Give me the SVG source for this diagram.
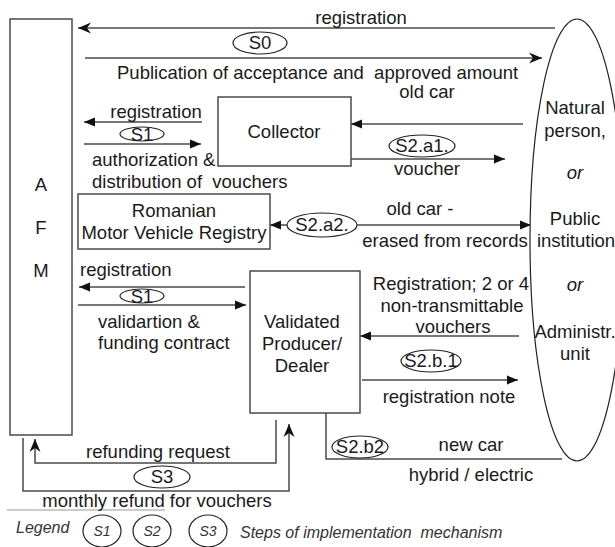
<svg xmlns="http://www.w3.org/2000/svg" width="615" height="547" viewBox="0 0 615 547">
<style>
text{font-family:"Liberation Sans",Arial,sans-serif;font-size:18.5px;fill:#1a1a1a}
.c{text-anchor:middle}
.it{font-style:italic}
.pre{white-space:pre}
.box{fill:#fff;stroke:#4a4a4a;stroke-width:1.5}
.ln{fill:none;stroke:#4a4a4a;stroke-width:1.5}
.ell{fill:#fff;stroke:#222;stroke-width:1.2}
.lg{font-size:16px;fill:#333}
.lgs{font-size:14px;fill:#333}
</style>
<defs>
<marker id="tri" markerUnits="userSpaceOnUse" markerWidth="12" markerHeight="10" refX="11" refY="5" orient="auto">
<path d="M0,0.5 L11,5 L0,9.5 z" fill="#111"/>
</marker>
<marker id="st" markerUnits="userSpaceOnUse" markerWidth="14" markerHeight="12" refX="13" refY="6" orient="auto">
<path d="M0,0.5 L13,6 L0,11.5 L4,6 z" fill="#111"/>
</marker>
</defs>
<rect width="615" height="547" fill="#fff"/>

<g id="connectors">
<line class="ln" x1="555" y1="28" x2="78" y2="28" marker-end="url(#st)"/>
<line class="ln" x1="85" y1="58" x2="542" y2="58" marker-end="url(#st)"/>
<line class="ln" x1="202" y1="122" x2="84" y2="122" marker-end="url(#tri)"/>
<line class="ln" x1="84" y1="144" x2="201" y2="144" marker-end="url(#tri)"/>
<line class="ln" x1="523" y1="124" x2="351" y2="124" marker-end="url(#tri)"/>
<line class="ln" x1="351" y1="159" x2="505" y2="159" marker-end="url(#tri)"/>
<line class="ln" x1="287" y1="225" x2="270" y2="225" marker-end="url(#tri)"/>
<line class="ln" x1="357" y1="225" x2="531" y2="225" marker-end="url(#tri)"/>
<line class="ln" x1="245" y1="287" x2="79" y2="287" marker-end="url(#tri)"/>
<line class="ln" x1="78" y1="305" x2="246" y2="305" marker-end="url(#tri)"/>
<line class="ln" x1="519" y1="336" x2="360" y2="336" marker-end="url(#tri)"/>
<line class="ln" x1="362" y1="380" x2="518" y2="380" marker-end="url(#tri)"/>
<path class="ln" d="M326,413 V459 H562"/>
<path class="ln" d="M276,420 V463 H35 V439" marker-end="url(#st)"/>
<path class="ln" d="M23,438 V491 H289 V424" marker-end="url(#st)"/>
<line x1="7" y1="510" x2="165" y2="510" stroke="#999" stroke-width="1.2"/>
</g>

<g id="afm">
<rect class="box" x="10" y="19" width="62" height="416"/>
<text class="c" x="41" y="191">A</text>
<text class="c" x="41" y="234">F</text>
<text class="c" x="41" y="277">M</text>
</g>

<g id="person">
<ellipse class="ell" cx="577" cy="240" rx="47" ry="221"/>
<text class="c" x="575" y="114">Natural</text>
<text class="c" x="575" y="137">person,</text>
<text class="c it" x="575" y="179">or</text>
<text class="c" x="575" y="225">Public</text>
<text class="c" x="576" y="247">institution</text>
<text class="c it" x="575" y="291">or</text>
<text class="c" x="575" y="338">Administr.</text>
<text class="c" x="575" y="360">unit</text>
</g>

<g id="collector">
<rect class="box" x="218" y="97" width="133" height="69"/>
<text class="c" x="284" y="138">Collector</text>
</g>

<g id="registry">
<rect class="box" x="78" y="194" width="192" height="55"/>
<text class="c" x="174" y="217">Romanian</text>
<text class="c" x="174" y="239">Motor Vehicle Registry</text>
</g>

<g id="dealer">
<rect class="box" x="250" y="271" width="110" height="142"/>
<text class="c" x="302" y="328">Validated</text>
<text class="c" x="302" y="350">Producer/</text>
<text class="c" x="302" y="372">Dealer</text>
</g>

<g id="labels">
<text class="c" x="361" y="24">registration</text>
<ellipse class="ell" cx="260" cy="43" rx="27" ry="11"/>
<text class="c" x="260" y="49">S0</text>
<text class="pre" x="117" y="79">Publication of acceptance and  approved amount</text>
<text class="c" x="427" y="98">old car</text>

<text class="c" x="156" y="118">registration</text>
<ellipse class="ell" cx="142" cy="134" rx="22" ry="7"/>
<text class="c" x="142" y="141">S1</text>
<text x="92" y="166">authorization &amp;</text>
<text class="pre" x="92" y="188">distribution of  vouchers</text>

<ellipse class="ell" cx="422" cy="146" rx="33" ry="11"/>
<text class="c" x="422" y="152">S2.a1.</text>
<text class="c" x="427" y="175">voucher</text>

<ellipse class="ell" cx="322" cy="225" rx="35" ry="12"/>
<text class="c" x="322" y="231">S2.a2.</text>
<text class="c" x="420" y="215">old car -</text>
<text class="c" x="445" y="247">erased from records</text>

<text x="80" y="276">registration</text>
<ellipse class="ell" cx="142" cy="296" rx="22" ry="7"/>
<text class="c" x="142" y="303">S1</text>
<text x="98" y="328">validartion &amp;</text>
<text x="98" y="349">funding contract</text>

<text class="c" x="451" y="290">Registration; 2 or 4</text>
<text class="c" x="452" y="312">non-transmittable</text>
<text class="c" x="453" y="333">vouchers</text>

<ellipse class="ell" cx="431" cy="361" rx="30" ry="11"/>
<text class="c" x="431" y="367">S2.b.1</text>
<text class="c" x="449" y="403">registration note</text>

<ellipse class="ell" cx="360" cy="447" rx="28" ry="11"/>
<text class="c" x="360" y="453">S2.b2</text>
<text class="c" x="471" y="451">new car</text>
<text class="c" x="471" y="481">hybrid / electric</text>

<text class="c" x="158" y="458">refunding request</text>
<ellipse class="ell" cx="162" cy="477" rx="28" ry="11"/>
<text class="c" x="162" y="483">S3</text>
<text class="c" x="157" y="507">monthly refund for vouchers</text>
</g>

<g id="legend">
<text class="it lg" x="16" y="533">Legend</text>
<ellipse class="ell" cx="102" cy="531" rx="19" ry="16"/>
<text class="c it lgs" x="102" y="536">S1</text>
<ellipse class="ell" cx="152" cy="531" rx="19" ry="16"/>
<text class="c it lgs" x="152" y="536">S2</text>
<ellipse class="ell" cx="208" cy="531" rx="19" ry="16"/>
<text class="c it lgs" x="208" y="536">S3</text>
<text class="it lg pre" x="240" y="538">Steps of implementation  mechanism</text>
</g>
</svg>
